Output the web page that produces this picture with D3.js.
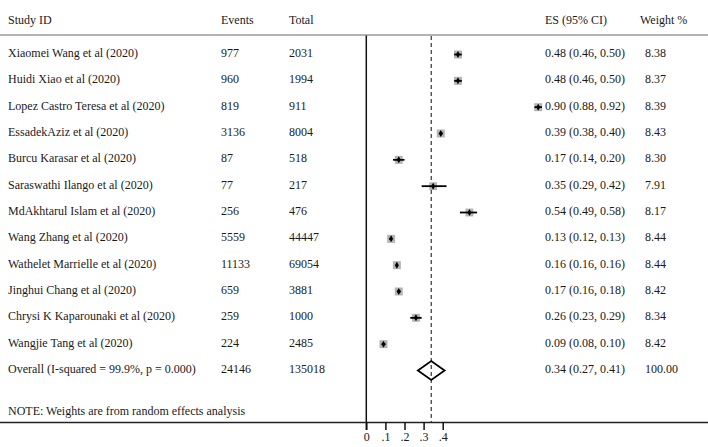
<!DOCTYPE html>
<html>
<head>
<meta charset="utf-8">
<script src="https://cdn.jsdelivr.net/npm/d3@7"></script>
<style>
  body { margin: 0; background: #fff; }
  text { font-family: "Liberation Serif", "Times New Roman", serif; font-size: 12px; fill: #1a1a1a; }
</style>
</head>
<body>
<script>
var studies = ["Xiaomei Wang et al (2020)", "Huidi Xiao et al (2020)", "Lopez Castro Teresa et al (2020)",
  "EssadekAziz et al (2020)", "Burcu Karasar et al (2020)", "Saraswathi Ilango et al (2020)",
  "MdAkhtarul  Islam et al (2020)", "Wang Zhang et al (2020)", "Wathelet Marrielle et al (2020)",
  "Jinghui Chang et al (2020)", "Chrysi K Kaparounaki et al (2020)", "Wangjie Tang et al (2020)"];
var events = [977, 960, 819, 3136, 87, 77, 256, 5559, 11133, 659, 259, 224];
var totals = [2031, 1994, 911, 8004, 518, 217, 476, 44447, 69054, 3881, 1000, 2485];
var es = [0.48, 0.48, 0.90, 0.39, 0.17, 0.35, 0.54, 0.13, 0.16, 0.17, 0.26, 0.09];
var lo = [0.46, 0.46, 0.88, 0.38, 0.14, 0.29, 0.49, 0.12, 0.16, 0.16, 0.23, 0.08];
var hi = [0.50, 0.50, 0.92, 0.40, 0.20, 0.42, 0.58, 0.13, 0.16, 0.18, 0.29, 0.10];
var weights = [8.38, 8.37, 8.39, 8.43, 8.30, 7.91, 8.17, 8.44, 8.44, 8.42, 8.34, 8.42];
var overallLabel = "Overall (I-squared = 99.9%, p = 0.000)";
var overall = {events: 24146, total: 135018, es: 0.34, lo: 0.27, hi: 0.41, weight: 100.00};
var ticks = [0, 0.1, 0.2, 0.3, 0.4];

var W = 708, H = 447;
var svg = d3.select("body").append("svg")
    .attr("width", W)
    .attr("height", H);

var x = d3.scaleLinear().domain([0, 1]).range([366.3, 557.3]);
// row 12 is the overall line
var y = d3.scaleLinear().domain([0, 12]).range([53, 369]);

var f2 = d3.format(".2f");

// header
var hy = 24;
svg.append("text").attr("x", 8).attr("y", hy).text("Study ID");
svg.append("text").attr("x", 221).attr("y", hy).text("Events");
svg.append("text").attr("x", 289).attr("y", hy).text("Total");
svg.append("text").attr("x", 545).attr("y", hy).text("ES (95% CI)");
svg.append("text").attr("x", 640).attr("y", hy).text("Weight %");

svg.append("line")
    .attr("x1", 0).attr("x2", W).attr("y1", 35).attr("y2", 35)
    .attr("stroke", "#9a9a9a").attr("stroke-width", 1.5);

// zero line and overall dashed line
svg.append("line")
    .attr("x1", x(0)).attr("x2", x(0)).attr("y1", 35.5).attr("y2", 430)
    .attr("stroke", "#111").attr("stroke-width", 1.5);
svg.append("line")
    .attr("x1", x(overall.es)).attr("x2", x(overall.es)).attr("y1", 36).attr("y2", 422)
    .attr("stroke", "#333").attr("stroke-width", 1.2)
    .attr("stroke-dasharray", "4,3");

// study rows
var rows = svg.selectAll("g.row").data(studies).enter().append("g")
    .attr("class", "row");

rows.append("text").attr("x", 8).attr("y", function(d, i) { return y(i) + 4; }).text(function(d) { return d; });
rows.append("text").attr("x", 221).attr("y", function(d, i) { return y(i) + 4; }).text(function(d, i) { return events[i]; });
rows.append("text").attr("x", 289).attr("y", function(d, i) { return y(i) + 4; }).text(function(d, i) { return totals[i]; });
rows.append("text").attr("x", 545).attr("y", function(d, i) { return y(i) + 4; })
    .text(function(d, i) { return f2(es[i]) + " (" + f2(lo[i]) + ", " + f2(hi[i]) + ")"; });
rows.append("text").attr("x", 645).attr("y", function(d, i) { return y(i) + 4; })
    .text(function(d, i) { return f2(weights[i]); });

var side = function(w) { return Math.sqrt(w / 8.44) * 8; };
rows.append("rect")
    .attr("x", function(d, i) { return x(es[i]) - side(weights[i]) / 2; })
    .attr("y", function(d, i) { return y(i) + 1.5 - side(weights[i]) / 2; })
    .attr("width", function(d, i) { return side(weights[i]); })
    .attr("height", function(d, i) { return side(weights[i]); })
    .attr("fill", "#b4b4b4");
rows.append("line")
    .attr("x1", function(d, i) { return x(lo[i]); })
    .attr("x2", function(d, i) { return x(hi[i]); })
    .attr("y1", function(d, i) { return y(i) + 1.5; })
    .attr("y2", function(d, i) { return y(i) + 1.5; })
    .attr("stroke", "#000").attr("stroke-width", 1.8);
rows.append("path")
    .attr("transform", function(d, i) { return "translate(" + x(es[i]) + "," + (y(i) + 1.5) + ")"; })
    .attr("d", d3.symbol().type(d3.symbolDiamond).size(14))
    .attr("fill", "#000");

// overall row
var oy = y(12);
svg.append("text").attr("x", 8).attr("y", oy + 4).text(overallLabel);
svg.append("text").attr("x", 221).attr("y", oy + 4).text(overall.events);
svg.append("text").attr("x", 289).attr("y", oy + 4).text(overall.total);
svg.append("text").attr("x", 545).attr("y", oy + 4)
    .text(f2(overall.es) + " (" + f2(overall.lo) + ", " + f2(overall.hi) + ")");
svg.append("text").attr("x", 645).attr("y", oy + 4).text(f2(overall.weight));

var dy = oy + 1.5;
svg.append("path")
    .attr("d", "M" + x(overall.lo) + "," + dy +
      "L" + x(overall.es) + "," + (dy - 9.5) +
      "L" + x(overall.hi) + "," + dy +
      "L" + x(overall.es) + "," + (dy + 9.5) + "Z")
    .attr("fill", "none").attr("stroke", "#000").attr("stroke-width", 1.8);

svg.append("text").attr("x", 8).attr("y", 415).text("NOTE: Weights are from random effects analysis");

// bottom axis
svg.append("line")
    .attr("x1", 0).attr("x2", W).attr("y1", 422.5).attr("y2", 422.5)
    .attr("stroke", "#222").attr("stroke-width", 1.5);

var axis = d3.axisBottom(x)
    .tickValues(ticks)
    .tickSize(8)
    .tickPadding(2)
    .tickFormat(function(d) { return d === 0 ? "0" : d3.format(".1f")(d).replace(/^0/, ""); });
var ax = svg.append("g").attr("transform", "translate(0,422)").call(axis);
ax.select(".domain").remove();
ax.selectAll(".tick line").attr("stroke", "#111").attr("stroke-width", 1.5);
ax.selectAll(".tick text").attr("font-family", "Liberation Serif").attr("font-size", 12).attr("fill", "#1a1a1a");
</script>
</body>
</html>
